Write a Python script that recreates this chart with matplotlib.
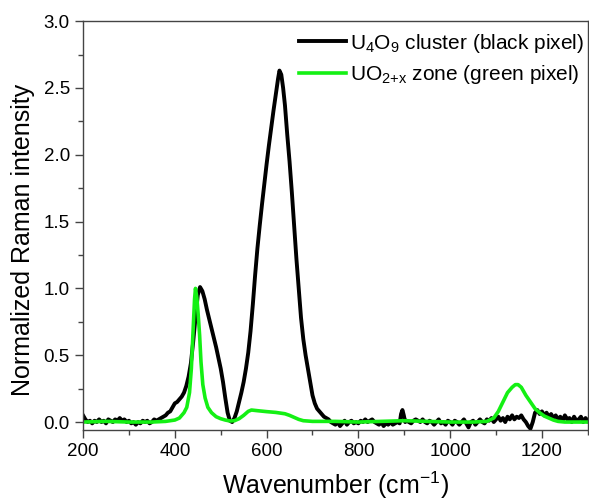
import matplotlib
matplotlib.use("Agg")
import matplotlib.pyplot as plt
from matplotlib.ticker import MultipleLocator

plt.rcParams['font.family'] = ['Liberation Sans', 'DejaVu Sans']
plt.rcParams['mathtext.default'] = 'regular'

# U4O9 cluster (black pixel)
black_x = [200, 205, 210, 215, 220, 225, 230, 235, 240, 245, 250, 255, 260, 265, 270, 275,
           280, 285, 290, 295, 300, 305, 310, 315, 320, 325, 330, 335, 340, 345, 350, 355,
           360, 365, 370, 375, 380, 385, 390, 395, 400, 405, 410, 415, 420, 425, 430, 435,
           440, 445, 450, 455, 460, 465, 470, 475, 480, 485, 490, 495, 500, 505, 510, 515,
           520, 525, 530, 535, 540, 545, 550, 555, 560, 565, 570, 575, 580, 585, 590, 595,
           600, 605, 610, 615, 620, 625, 628, 632, 636, 640, 645, 650, 655, 660, 665, 670,
           675, 680, 685, 690, 695, 700, 705, 710, 715, 720, 725, 730, 735, 740,
           745, 750, 755, 760, 765, 770, 775, 780, 785, 790, 795, 800, 805, 810, 815, 820,
           825, 830, 835, 840, 845, 850, 855, 860, 865, 870, 875, 880, 885, 890, 893, 896,
           899, 902, 905, 910, 915, 920, 925, 930, 935, 940, 945, 950, 955, 960, 965, 970,
           975, 980, 985, 990, 995, 1000, 1005, 1010, 1015, 1020, 1025, 1030, 1035, 1040,
           1045, 1050, 1055, 1060, 1065, 1070, 1075, 1080, 1085, 1090, 1095, 1100, 1105,
           1110, 1115, 1120, 1125, 1130, 1135, 1140, 1145, 1150, 1155, 1160, 1165, 1170,
           1175, 1180, 1185, 1190, 1195, 1200, 1205, 1210, 1215, 1220, 1225, 1230, 1235,
           1240, 1245, 1250, 1255, 1260, 1265, 1270, 1275, 1280, 1285, 1290, 1295, 1300]
black_y = [0.05, 0.02, 0.0, 0.01, -0.01, 0.01, 0.0, 0.02, 0.0, 0.01, -0.01, 0.02, 0.01, 0.0, 0.02, 0.01,
           0.03, 0.01, 0.02, 0.0, 0.01, -0.01, 0.0, -0.02, 0.0, -0.01, 0.01, 0.0, 0.01, -0.01, 0.0, 0.02,
           0.01, 0.02, 0.03, 0.04, 0.05, 0.07, 0.08, 0.11, 0.14, 0.15, 0.17, 0.19, 0.22, 0.27, 0.34, 0.44,
           0.60, 0.78, 0.95, 1.01, 0.98, 0.92, 0.84, 0.77, 0.70, 0.63, 0.56, 0.48, 0.40, 0.30, 0.18, 0.07,
           0.01, 0.0, 0.03, 0.08, 0.15, 0.22, 0.30, 0.40, 0.52, 0.68, 0.88, 1.10, 1.30, 1.47, 1.63, 1.78,
           1.93, 2.07, 2.20, 2.33, 2.45, 2.57, 2.63, 2.60, 2.50, 2.37, 2.15, 1.95, 1.72, 1.47, 1.22, 1.00,
           0.78, 0.62, 0.50, 0.40, 0.30, 0.20, 0.14, 0.10, 0.08, 0.06, 0.04, 0.03, 0.02, 0.0,
           -0.01, -0.02, 0.0, -0.03, -0.01, 0.01, -0.02, 0.0, 0.01, -0.01, 0.0, -0.01, 0.01, 0.0, 0.02, 0.0,
           0.01, 0.02, 0.0, -0.01, -0.02, 0.0, -0.03, -0.01, -0.02, 0.0, -0.02, -0.01, 0.0, -0.01, 0.06, 0.09,
           0.05, 0.0, 0.01, 0.0, -0.01, 0.01, 0.02, 0.01, 0.0, 0.02, 0.0, -0.01, 0.01, 0.0, -0.02, 0.0,
           0.02, -0.01, 0.0, -0.02, 0.01, 0.0, -0.02, 0.01, 0.0, -0.02, 0.0, 0.02, -0.01, -0.04,
           0.0, 0.01, -0.02, 0.0, 0.02, 0.0, -0.01, 0.02, 0.01, 0.03, 0.0, 0.02, 0.04,
           0.01, 0.03, 0.0, 0.04, 0.02, 0.05, 0.02, 0.04, 0.03, 0.05, 0.02, 0.0, -0.03,
           -0.05, 0.0, 0.07, 0.09, 0.06, 0.08, 0.05, 0.07, 0.04, 0.06, 0.03, 0.05, 0.02,
           0.04, 0.01, 0.05, 0.02, 0.03, 0.0, 0.04, 0.01, 0.02, 0.04, 0.0, 0.03, 0.01]

# UO2+x zone (green pixel)
green_x = [200, 250, 300, 350, 380, 400, 410, 420, 426, 432, 436, 440, 443, 445, 448, 451,
           454, 457, 461, 466, 472, 480, 490, 500, 510, 520, 530, 540, 550, 560, 567, 580,
           600, 620, 640, 650, 660, 670, 680, 700, 750, 800, 900, 950, 1000, 1050, 1080,
           1095, 1105, 1115, 1125, 1135, 1142, 1148, 1155, 1165, 1175, 1185, 1195, 1205,
           1215, 1225, 1235, 1250, 1300]
green_y = [0.0, 0.005, 0.0, 0.0, 0.005, 0.015, 0.03, 0.07, 0.11, 0.22, 0.40, 0.70, 0.92, 1.0, 0.93, 0.80,
           0.65, 0.45, 0.28, 0.18, 0.11, 0.07, 0.04, 0.025, 0.015, 0.008, 0.01, 0.025, 0.05, 0.08, 0.09, 0.085,
           0.078, 0.072, 0.062, 0.05, 0.035, 0.02, 0.01, 0.005, 0.005, 0.0, 0.01, 0.005, 0.0, 0.0, 0.005,
           0.03, 0.08, 0.15, 0.22, 0.26, 0.28, 0.28, 0.26, 0.20, 0.15, 0.10, 0.07, 0.045,
           0.03, 0.015, 0.005, 0.0, 0.0]

fig = plt.figure(figsize=(5.89, 5.03), dpi=100)
ax = fig.add_axes([0.141, 0.145, 0.857, 0.813])

ax.plot(black_x, black_y, color='black', lw=2.8, label='U$_4$O$_9$ cluster (black pixel)')
ax.plot(green_x, green_y, color='#14f014', lw=2.6, label='UO$_{2{+}x}$ zone (green pixel)')

ax.set_xlim(200, 1300)
ax.set_ylim(-0.06, 3.0)
ax.xaxis.set_major_locator(MultipleLocator(200))
ax.xaxis.set_minor_locator(MultipleLocator(100))
ax.yaxis.set_major_locator(MultipleLocator(0.5))
ax.yaxis.set_minor_locator(MultipleLocator(0.25))
ax.tick_params(which='both', direction='out', top=False, right=False, labelsize=13.5, color='#444444')
ax.tick_params(which='major', length=6, width=1)
ax.tick_params(which='minor', length=3.5, width=1)
for s in ax.spines.values():
    s.set_color('#444444')
    s.set_linewidth(1)

ax.set_xlabel('Wavenumber (cm$^{-1}$)', fontsize=18, labelpad=7)
ax.set_ylabel('Normalized Raman intensity', fontsize=18)
ax.yaxis.set_label_coords(-0.095, 0.465)

ax.legend(loc='upper right', frameon=False, fontsize=15, handlelength=2.25,
          handletextpad=0.2, labelspacing=0.4, borderaxespad=0.0,
          bbox_to_anchor=(1.01, 0.995))

fig.savefig('out.png', dpi=100)
